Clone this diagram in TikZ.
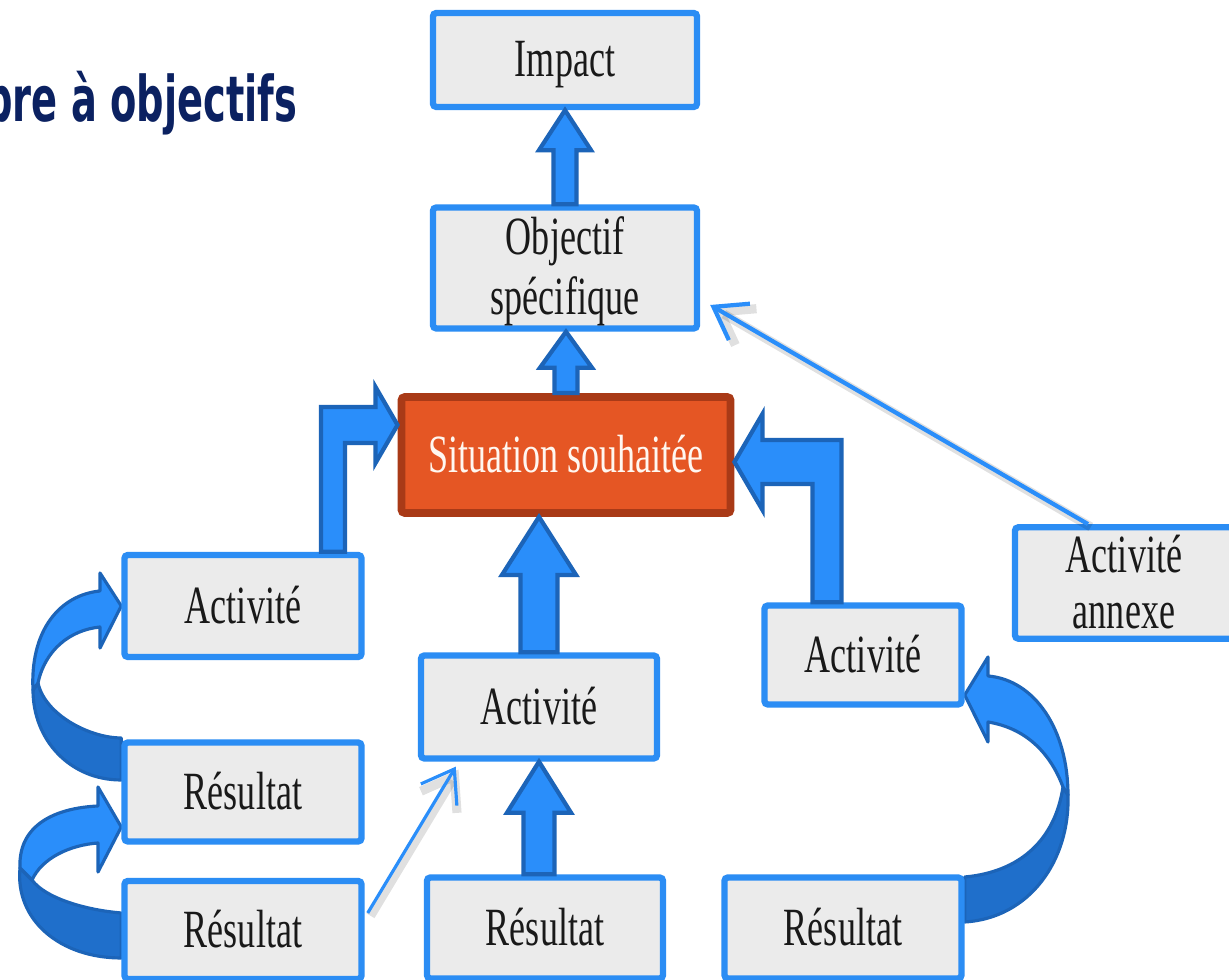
\documentclass[tikz,border=0pt]{standalone}
\usepackage{fontspec}
\setmainfont{Liberation Serif}
\newfontfamily\titlefont{DejaVu Sans}
\usepackage{graphicx}
\usetikzlibrary{calc,arrows.meta,backgrounds}

\definecolor{boxblue}{HTML}{2B8DF4}
\definecolor{boxgrey}{HTML}{EBEBEB}
\definecolor{arrowblue}{HTML}{2A8EFA}
\definecolor{arrowedge}{HTML}{1C64B8}
\definecolor{ribbondeep}{HTML}{1F6FCB}
\definecolor{situfill}{HTML}{E55624}
\definecolor{situedge}{HTML}{A93A17}
\definecolor{titlenavy}{HTML}{0B2161}

% narrow text with a fixed strut
\newcommand{\sq}[1]{\scalebox{0.67}[1]{\rule[-0.105cm]{0pt}{0.555cm}#1}}

\begin{document}
\begin{tikzpicture}[x=0.01cm,y=-0.01cm,>=latex]
        \tikzstyle{block} = [rectangle, draw=boxblue, line width=1.8pt, fill=boxgrey, rounded corners=1pt, inner sep=0pt, align=center, font=\fontsize{15.3}{15.9}\selectfont, text=black!90]
        \tikzstyle{situ} = [block, draw=situedge, line width=2.2pt, fill=situfill, text=white!94!orange]
        \tikzstyle{fat} = [fill=arrowblue, draw=arrowedge, line width=1.2pt, line join=miter]
        \tikzstyle{ribbon} = [fill=arrowblue, draw=arrowedge, line width=0.9pt, line join=round]
        \tikzstyle{ribbonback} = [ribbon, fill=ribbondeep]
        \tikzstyle{link} = [draw=arrowblue, line width=1.2pt, -{Straight Barb[length=0.3cm,width=0.42cm]}, preaction={draw=black, opacity=0.12, line width=2.6pt, transform canvas={shift={(0.8pt,-0.8pt)}}}]

        \useasboundingbox (0,0) rectangle (1229,980);
        \clip (0,0) rectangle (1229,980);

        % Title
        \node[anchor=base east, inner sep=0pt, font=\titlefont\bfseries\fontsize{17.9}{20}\selectfont, text=titlenavy] (title) at (298,122) {\scalebox{0.61}[1]{Arbre à objectifs}};

        % Nodes
        \node[block, minimum width=2.64cm, minimum height=0.94cm] (impact) at (565,60) {\sq{Impact}};
        \node[block, minimum width=2.64cm, minimum height=1.21cm] (objectif) at (565,268) {\sq{Objectif}\\\sq{spécifique}};
        \node[situ, minimum width=3.29cm, minimum height=1.16cm] (situation) at (566,455) {\sq{Situation souhaitée}};

        \node[block, minimum width=2.37cm, minimum height=1.02cm] (actL) at (243,606) {\sq{Activité}};
        \node[block, minimum width=2.37cm, minimum height=0.99cm] (resL1) at (243,792) {\sq{Résultat}};
        \node[block, minimum width=2.37cm, minimum height=0.98cm] (resL2) at (243,930) {\sq{Résultat}};

        \node[block, minimum width=2.36cm, minimum height=1.03cm] (actM) at (539,707) {\sq{Activité}};
        \node[block, minimum width=2.36cm, minimum height=1.01cm] (resM) at (545,928) {\sq{Résultat}};

        \node[block, minimum width=1.97cm, minimum height=0.99cm] (actR) at (863,655) {\sq{Activité}};
        \node[block, minimum width=2.37cm, minimum height=1.01cm] (resR) at (843,928) {\sq{Résultat}};

        \node[block, minimum width=2.18cm, minimum height=1.11cm] (annexe) at (1124,583) {\sq{Activité}\\\sq{annexe}};

        % Curved arrows (behind the boxes)
        \begin{scope}[on background layer]
        \fill[white] (0,0) rectangle (1229,980);
        % left: Résultat -> Activité
        \draw[ribbonback] ($(resL1.west)+(0,-54)$) .. controls (90,738) and (45,715) .. (38,683)
            -- (33,690) .. controls (33,740) and (70,780) .. ($(resL1.west)+(0,-12)$) -- cycle;
        \draw[ribbon] (33,690) .. controls (30,630) and (60,595) .. (100,591) -- (100,573)
            -- (actL.west) -- (100,648) -- (100,627) .. controls (70,630) and (45,650) .. (38,683) -- cycle;
        % left: Résultat -> Résultat
        \draw[ribbonback] ($(resL2.west)+(0,-17)$) .. controls (85,910) and (45,898) .. (32,880)
            -- (20,868) .. controls (15,920) and (60,958) .. ($(resL2.west)+(0,28)$) -- cycle;
        \draw[ribbon] (20,868) .. controls (18,825) and (55,808) .. (98,806) -- (98,787)
            -- ($(resL1.west)+(0,35)$) -- (98,872) -- (98,843) .. controls (70,845) and (42,858) .. (32,880) -- cycle;
        % right: Résultat -> Activité
        \draw[ribbonback] ($(resR.east)+(0,-51)$) .. controls (1020,872) and (1055,840) .. (1063,787)
            -- (1068,795) .. controls (1070,860) and (1030,918) .. ($(resR.east)+(0,-6)$) -- cycle;
        \draw[ribbon] (1068,795) .. controls (1068,730) and (1035,680) .. (988,676) -- (988,657)
            -- ($(actR.east)+(0,40)$) -- (988,742) -- (988,722) .. controls (1025,728) and (1050,752) .. (1063,787) -- cycle;
        \end{scope}

        % Straight block arrows
        \foreach \from/\to/\sh/\hh/\hl in {objectif.north/impact.south/0.115/0.26/0.40,
                situation.north/objectif.south/0.115/0.26/0.36,
                actM.north/situation.south/0.185/0.37/0.58,
                actM.south |- resM.north/actM.south/0.155/0.32/0.51}
            \draw[fat] let \p1=(\from), \p2=(\to) in
                (\x1-\sh cm,\y1) -- (\x1-\sh cm,\y2-\hl cm) -- (\x1-\hh cm,\y2-\hl cm) -- (\x1,\y2)
                -- (\x1+\hh cm,\y2-\hl cm) -- (\x1+\sh cm,\y2-\hl cm) -- (\x1+\sh cm,\y1) -- cycle;

        % Elbow block arrows (up, then sideways)
        \draw[fat] let \p1=($(actL.north)+(90,0)$), \p2=($(situation.west)+(0,-30)$) in
            (\x1-0.12cm,\y1) -- (\x1-0.12cm,\y2+0.18cm) -- (\x2-0.22cm,\y2+0.18cm) -- (\x2-0.22cm,\y2+0.38cm)
            -- (\x2,\y2) -- (\x2-0.22cm,\y2-0.38cm) -- (\x2-0.22cm,\y2-0.18cm) -- (\x1+0.12cm,\y2-0.18cm)
            -- (\x1+0.12cm,\y1) -- cycle;
        \draw[fat] let \p1=($(actR.north)+(-36,0)$), \p2=($(situation.east)+(0,7)$) in
            (\x1+0.145cm,\y1) -- (\x1+0.145cm,\y2+0.22cm) -- (\x2+0.28cm,\y2+0.22cm) -- (\x2+0.28cm,\y2+0.48cm)
            -- (\x2,\y2) -- (\x2+0.28cm,\y2-0.48cm) -- (\x2+0.28cm,\y2-0.22cm) -- (\x1-0.145cm,\y2-0.22cm)
            -- (\x1-0.145cm,\y1) -- cycle;

        % Thin arrows
        \draw[link] ($(annexe.north)+(-36,0)$) -- ($(objectif.east)+(10,37)$);
        \draw[link, line width=0.9pt] ($(resL2.east)+(3,-17)$) -- ($(actM.south west)+(38,5)$);
    \end{tikzpicture}
\end{document}
